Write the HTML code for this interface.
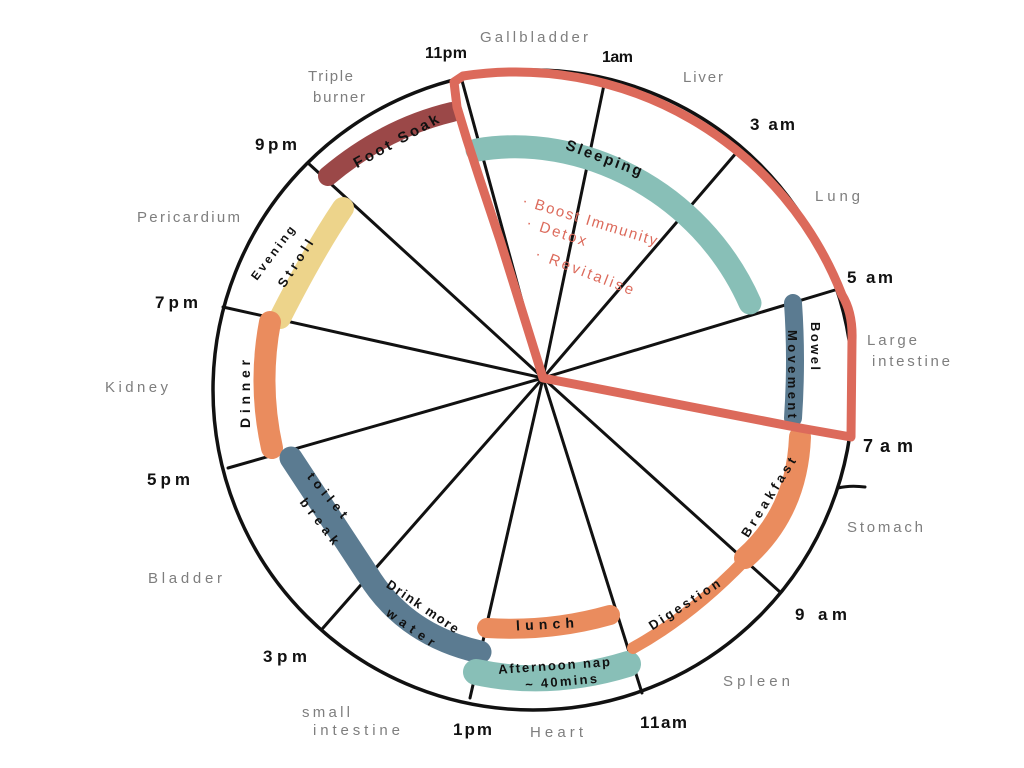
<!DOCTYPE html>
<html>
<head>
<meta charset="utf-8">
<style>
  html,body{margin:0;padding:0;background:#fff;}
  svg{display:block;}
  text{font-family:"Liberation Sans","DejaVu Sans",sans-serif;}
  .t{font-weight:bold;fill:#111;}
  .g{fill:#7e7e7e;font-size:15px;}
  .b{font-weight:bold;fill:#111;}
  .r{fill:#dc6a5b;font-size:15px;}
</style>
</head>
<body>
<svg width="1024" height="768" viewBox="0 0 1024 768" xmlns="http://www.w3.org/2000/svg">
  <rect width="1024" height="768" fill="#ffffff"/>

  <!-- spokes -->
  <g stroke="#111" stroke-width="3" stroke-linecap="round">
    <line x1="543" y1="378" x2="461" y2="77"/>
    <line x1="543" y1="378" x2="605" y2="80"/>
    <line x1="543" y1="378" x2="737" y2="152"/>
    <line x1="543" y1="378" x2="835" y2="290"/>
    <line x1="543" y1="378" x2="850" y2="437"/>
    <line x1="543" y1="378" x2="780" y2="592"/>
    <line x1="543" y1="378" x2="642" y2="693"/>
    <line x1="543" y1="378" x2="470" y2="698"/>
    <line x1="543" y1="378" x2="323" y2="628"/>
    <line x1="543" y1="378" x2="228" y2="468"/>
    <line x1="543" y1="378" x2="223" y2="307"/>
    <line x1="543" y1="378" x2="308" y2="163"/>
  </g>

  <!-- outer circle -->
  <circle cx="533" cy="390" r="320" fill="none" stroke="#111" stroke-width="3.5"/>
  <!-- small tick near 7am -->
  <path d="M838,488 Q850,485 865,487" fill="none" stroke="#111" stroke-width="3" stroke-linecap="round"/>

  <!-- activity bands -->
  <g fill="none" stroke-linecap="round">
    <path d="M328,176 Q385,128 452,112" stroke="#9b4848" stroke-width="20"/>
    <path d="M343,208 Q314,251 280,318" stroke="#edd48b" stroke-width="22"/>
    <path d="M270,322 Q258,385 272,448" stroke="#ea8c5e" stroke-width="22"/>
    <path d="M291,458 L368,575 Q405,635 480,652" stroke="#5b7b91" stroke-width="23"/>
    <path d="M487,628 Q550,632 610,615" stroke="#ea8c5e" stroke-width="20"/>
    <path d="M476,672 Q550,688 628,664" stroke="#88bfb7" stroke-width="26"/>
    <path d="M633,648 Q691,616 745,560" stroke="#ea8c5e" stroke-width="12"/>
    <path d="M745,558 Q797,512 800,437" stroke="#ea8c5e" stroke-width="22"/>
    <path d="M793,303 Q797,360 793,418" stroke="#5b7b91" stroke-width="18"/>
    <path d="M477,150 C580,132 700,190 750,303" stroke="#88bfb7" stroke-width="23"/>
  </g>

  <!-- red sleep outline -->
  <path d="M543,378 L500,240 L480,180 L467,140 L457,107 L454,82 L463,76 A350,350 0 0 1 842,295 Q853,313 852,340 L851,437 L800,428 L543,378 Z"
        fill="none" stroke="#dc6a5b" stroke-width="9" stroke-linejoin="round" stroke-linecap="round"/>

  <!-- time labels -->
  <text class="t" x="425" y="58" font-size="16" textLength="42" lengthAdjust="spacing">11pm</text>
  <text class="t" x="602" y="62" font-size="16" textLength="31" lengthAdjust="spacing">1am</text>
  <text class="t" x="750" y="130" font-size="17" textLength="45" lengthAdjust="spacing">3 am</text>
  <text class="t" x="847" y="283" font-size="17" textLength="46" lengthAdjust="spacing">5 am</text>
  <text class="t" x="863" y="452" font-size="18" textLength="50" lengthAdjust="spacing">7am</text>
  <text class="t" x="795" y="620" font-size="17" textLength="52" lengthAdjust="spacing">9 am</text>
  <text class="t" x="640" y="728" font-size="17" textLength="47" lengthAdjust="spacing">11am</text>
  <text class="t" x="453" y="735" font-size="17" textLength="39" lengthAdjust="spacing">1pm</text>
  <text class="t" x="263" y="662" font-size="17" textLength="44" lengthAdjust="spacing">3pm</text>
  <text class="t" x="147" y="485" font-size="17" textLength="43" lengthAdjust="spacing">5pm</text>
  <text class="t" x="155" y="308" font-size="17" textLength="43" lengthAdjust="spacing">7pm</text>
  <text class="t" x="255" y="150" font-size="17" textLength="42" lengthAdjust="spacing">9pm</text>

  <!-- organ labels -->
  <text class="g" x="480" y="42" textLength="108" lengthAdjust="spacing">Gallbladder</text>
  <text class="g" x="683" y="82" textLength="40" lengthAdjust="spacing">Liver</text>
  <text class="g" x="308" y="81" font-size="14" textLength="45" lengthAdjust="spacing">Triple</text>
  <text class="g" x="313" y="102" font-size="14" textLength="52" lengthAdjust="spacing">burner</text>
  <text class="g" x="815" y="201" textLength="45" lengthAdjust="spacing">Lung</text>
  <text class="g" x="137" y="222" textLength="103" lengthAdjust="spacing">Pericardium</text>
  <text class="g" x="867" y="345" textLength="50" lengthAdjust="spacing">Large</text>
  <text class="g" x="872" y="366" textLength="78" lengthAdjust="spacing">intestine</text>
  <text class="g" x="105" y="392" textLength="63" lengthAdjust="spacing">Kidney</text>
  <text class="g" x="847" y="532" textLength="76" lengthAdjust="spacing">Stomach</text>
  <text class="g" x="148" y="583" textLength="74" lengthAdjust="spacing">Bladder</text>
  <text class="g" x="723" y="686" textLength="67" lengthAdjust="spacing">Spleen</text>
  <text class="g" x="302" y="717" textLength="48" lengthAdjust="spacing">small</text>
  <text class="g" x="313" y="735" textLength="87" lengthAdjust="spacing">intestine</text>
  <text class="g" x="530" y="737" textLength="53" lengthAdjust="spacing">Heart</text>

  <!-- band labels -->
  <g class="b" text-anchor="middle">
    <text transform="translate(396,141) rotate(-29)" y="5" font-size="15" textLength="95" lengthAdjust="spacing">Foot Soak</text>
    <text transform="translate(604,158) rotate(20)" y="5" font-size="15" textLength="80" lengthAdjust="spacing">Sleeping</text>
    <text transform="translate(816,346) rotate(90)" y="5" font-size="13" textLength="48" lengthAdjust="spacing">Bowel</text>
    <text transform="translate(793,374) rotate(90)" y="5" font-size="13" textLength="88" lengthAdjust="spacing">Movement</text>
    <text transform="translate(768,497) rotate(-58)" y="5" font-size="13" textLength="91" lengthAdjust="spacing">Breakfast</text>
    <text transform="translate(684,604) rotate(-33)" y="5" font-size="13" textLength="82" lengthAdjust="spacing">Digestion</text>
    <text transform="translate(545,624) rotate(-3)" y="5" font-size="14" textLength="58" lengthAdjust="spacing">lunch</text>
    <text transform="translate(554,665) rotate(-4)" y="5" font-size="13" textLength="112" lengthAdjust="spacing">Afternoon nap</text>
    <text transform="translate(561,681) rotate(-5)" y="5" font-size="13" textLength="72" lengthAdjust="spacing">~ 40mins</text>
    <text transform="translate(245,394) rotate(-90)" y="5" font-size="14" textLength="68" lengthAdjust="spacing">Dinner</text>
    <text transform="translate(273,253) rotate(-53)" y="4" font-size="12" textLength="64" lengthAdjust="spacing">Evening</text>
    <text transform="translate(295,263) rotate(-57)" y="5" font-size="13" textLength="54" lengthAdjust="spacing">Stroll</text>
    <text transform="translate(328,495) rotate(50)" y="5" font-size="13" textLength="55" lengthAdjust="spacing">toilet</text>
    <text transform="translate(320,521) rotate(52)" y="5" font-size="13" textLength="55" lengthAdjust="spacing">break</text>
    <text transform="translate(423,606) rotate(34)" y="5" font-size="13" textLength="84" lengthAdjust="spacing">Drink more</text>
    <text transform="translate(411,627) rotate(35)" y="5" font-size="13" textLength="56" lengthAdjust="spacing">water</text>
  </g>

  <!-- red notes -->
  <text class="r" transform="translate(523,200) rotate(17)" x="0" y="5" textLength="140" lengthAdjust="spacing">· Boost Immunity</text>
  <text class="r" transform="translate(527,222) rotate(18)" x="0" y="5" textLength="62" lengthAdjust="spacing">· Detox</text>
  <text class="r" transform="translate(536,253) rotate(21)" x="0" y="5" textLength="104" lengthAdjust="spacing">· Revitalise</text>
</svg>
</body>
</html>
